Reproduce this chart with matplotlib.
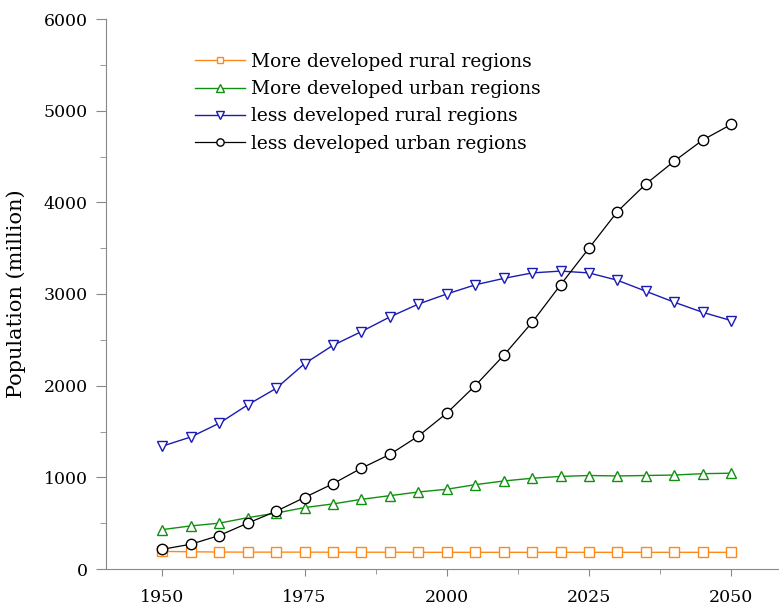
import matplotlib
matplotlib.use("Agg")
import matplotlib.pyplot as plt
from matplotlib.ticker import MultipleLocator

years = [1950, 1955, 1960, 1965, 1970, 1975, 1980, 1985, 1990, 1995, 2000,
         2005, 2010, 2015, 2020, 2025, 2030, 2035, 2040, 2045, 2050]
more_rural = [192, 188, 185, 184, 184, 184, 183, 183, 183, 182, 182,
              182, 182, 182, 182, 182, 182, 182, 182, 182, 182]
more_urban = [430, 470, 500, 560, 610, 670, 710, 760, 800, 840, 870,
              920, 960, 990, 1010, 1020, 1015, 1020, 1025, 1040, 1045]
less_rural = [1340, 1440, 1590, 1790, 1970, 2240, 2440, 2590, 2750, 2890, 3000,
              3100, 3170, 3230, 3250, 3230, 3150, 3030, 2910, 2800, 2710]
less_urban = [215, 270, 365, 500, 630, 780, 930, 1100, 1250, 1450, 1700,
              2000, 2330, 2690, 3100, 3500, 3900, 4200, 4450, 4680, 4850]
labels = ["More developed rural regions", "More developed urban regions",
          "less developed rural regions", "less developed urban regions"]

plt.rcParams['font.family'] = ['DejaVu Serif']
fig = plt.figure(figsize=(7.79, 6.10), dpi=100)
ax = fig.add_axes([106/779, 41/610, 1 - 106/779, 550/610])

ms = 7.5
ax.plot(years, more_rural, color='#ff8a1c', marker='s', mfc='white', ms=6.5, lw=1.0, label=labels[0])
ax.plot(years, more_urban, color='#109010', marker='^', mfc='white', ms=ms, lw=1.0, label=labels[1])
ax.plot(years, less_rural, color='#1a1ab4', marker='v', mfc='white', ms=ms, lw=1.0, label=labels[2])
ax.plot(years, less_urban, color='black', marker='o', mfc='white', ms=ms, lw=0.9, label=labels[3])

ax.set_xlim(1940.1, 2058.4)
ax.set_ylim(0, 6000)
ax.xaxis.set_major_locator(MultipleLocator(25))
ax.xaxis.set_minor_locator(MultipleLocator(12.5))
ax.yaxis.set_major_locator(MultipleLocator(1000))
ax.yaxis.set_minor_locator(MultipleLocator(500))
for s in ['top', 'right']:
    ax.spines[s].set_visible(False)
for s in ['left', 'bottom']:
    ax.spines[s].set_color('#888888')
ax.tick_params(axis='y', which='major', length=7.5, color='#888888', labelsize=12.5, pad=5.5)
ax.tick_params(axis='y', which='minor', length=4, color='#888888')
ax.tick_params(axis='x', which='major', length=5, color='#888888', labelsize=12.5, pad=9.5)
ax.tick_params(axis='x', which='minor', length=3.5, color='#888888')
ax.set_ylabel("Population (million)", fontsize=15, labelpad=13)

leg = ax.legend(loc='upper left', bbox_to_anchor=(0.107, 0.969), frameon=False,
                fontsize=13.4, handlelength=2.7, markerscale=0.7, labelspacing=0.5,
                handletextpad=0.3)

fig.savefig("out.png", dpi=100)
